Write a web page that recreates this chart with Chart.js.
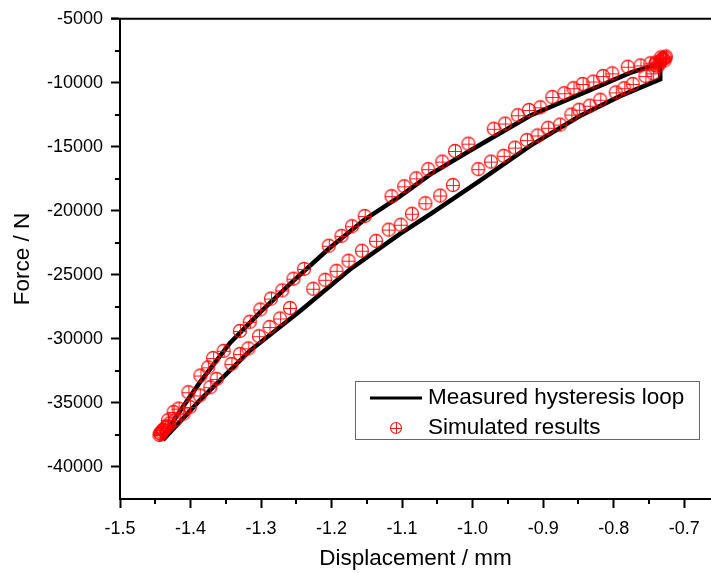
<!DOCTYPE html>
<html lang="en">
<head>
    <meta charset="UTF-8" />
    <title>Hysteresis loop - measured vs simulated</title>
    <script src="https://cdn.jsdelivr.net/npm/chart.js"></script>
    <style>
        body { margin: 0; background: #fff; }
        canvas { display: block; }
    </style>
</head>
<body>
    <canvas id="loopChart" width="711" height="573"></canvas>

    <script>
        // measured loop: lower branch up to the right, short vertical step, upper branch back down
        const measuredX = [
            -1.439, -1.387, -1.316, -1.245, -1.174, -1.103, -1.060, -0.989, -0.918, -0.848, -0.791, -0.734,
            -0.734, -0.777, -0.833, -0.918, -1.004, -1.060, -1.103, -1.154, -1.204, -1.255, -1.301, -1.344,
            -1.387, -1.418, -1.439, -1.439
        ];
        const measuredY = [
            -37900, -34800, -30930, -27830, -24580, -21800, -20250, -17620, -14900, -12590, -11040, -9720,
            -8480, -9220, -10550, -12550, -15300, -17150, -18860, -20710, -22960, -25510, -27910, -30310,
            -33410, -35880, -37660, -37900
        ];

        // simulated results (markers)
        const simX = [
            -1.444, -1.443, -1.441, -1.439, -1.436, -1.433, -1.430, -1.422, -1.410, -1.401,
            -1.387, -1.372, -1.363, -1.342, -1.330, -1.318, -1.303, -1.288, -1.273, -1.259,
            -1.226, -1.209, -1.193, -1.176, -1.157, -1.137, -1.119, -1.102, -1.086, -1.067,
            -1.046, -1.028, -0.992, -0.974, -0.956, -0.940, -0.923, -0.908, -0.893, -0.876,
            -0.860, -0.849, -0.834, -0.819, -0.797, -0.785, -0.773, -0.755, -0.744, -0.738,
            -0.734, -0.731, -0.730, -0.727, -0.726, -0.728, -0.733, -0.736, -0.740, -0.742,
            -0.748, -0.762, -0.780, -0.802, -0.815, -0.829, -0.844, -0.857, -0.870, -0.887,
            -0.904, -0.920, -0.936, -0.954, -0.970, -1.006, -1.025, -1.043, -1.063, -1.080,
            -1.097, -1.115, -1.153, -1.171, -1.186, -1.204, -1.239, -1.254, -1.270, -1.286,
            -1.301, -1.316, -1.330, -1.353, -1.368, -1.375, -1.386, -1.403, -1.417, -1.424,
            -1.432, -1.439, -1.442
        ];
        const simY = [
            -37500, -37350, -37250, -37120, -36950, -36810, -36600, -36350, -35830, -35320,
            -34410, -33770, -33120, -31960, -31180, -30740, -29790, -29070, -28400, -27580,
            -26080, -25380, -24680, -23890, -23110, -22340, -21460, -21080, -20220, -19400,
            -18800, -17980, -16740, -16150, -15700, -15060, -14470, -14110, -13510, -13260,
            -12480, -12100, -11790, -11320, -10750, -10420, -10090, -9470, -9260, -8720,
            -8330, -8150, -8100, -8050, -7940, -8250, -8020, -8550, -8410, -8600,
            -8480, -8640, -8740, -9260, -9470, -9900, -10090, -10420, -10810, -11110,
            -11910, -12120, -12530, -13180, -13590, -14750, -15320, -16150, -16740, -17460,
            -18080, -18850, -20400, -21200, -21950, -22720, -24530, -25300, -26210, -26850,
            -27700, -28660, -29380, -30930, -31490, -32220, -32860, -34160, -35440, -35710,
            -36350, -37120, -37430
        ];

        const xTicks = [-1.5, -1.4, -1.3, -1.2, -1.1, -1.0, -0.9, -0.8, -0.7];
        const xMinor = [-1.45, -1.35, -1.25, -1.15, -1.05, -0.95, -0.85, -0.75];
        const yTicks = [-5000, -10000, -15000, -20000, -25000, -30000, -35000, -40000];
        const yMinor = [-7500, -12500, -17500, -22500, -27500, -32500, -37500];

        const legendLabels = ['Measured hysteresis loop', 'Simulated results'];

        const FONT = "'Liberation Sans', Arial, sans-serif";

        // circle with a plus inside
        function makeMarker(r, w) {
            const c = document.createElement('canvas');
            const s = 2 * r + 2;
            c.width = s; c.height = s;
            const g = c.getContext('2d');
            const m = s / 2;
            g.strokeStyle = 'rgba(255, 0, 0, 0.9)';
            g.lineWidth = w;
            g.beginPath();
            g.arc(m, m, r - 0.5, 0, 2 * Math.PI);
            g.stroke();
            g.lineWidth = 1;
            g.beginPath();
            g.moveTo(m - r + 1, m + 0.5); g.lineTo(m + r - 1, m + 0.5);
            g.moveTo(m + 0.5, m - r + 1); g.lineTo(m + 0.5, m + r - 1);
            g.stroke();
            return c;
        }
        const marker = makeMarker(7, 1.3);
        const legendMarker = makeMarker(6, 1.2);

        const extras = {
            id: 'extras',
            afterDraw(chart) {
                const { ctx, chartArea: a, scales: { x, y } } = chart;
                ctx.save();
                ctx.strokeStyle = '#000';
                ctx.lineWidth = 2;
                ctx.beginPath();
                // top frame line
                ctx.moveTo(a.left - 9, a.top);
                ctx.lineTo(a.right, a.top);
                xMinor.forEach(v => {
                    const px = Math.round(x.getPixelForValue(v));
                    ctx.moveTo(px, a.bottom);
                    ctx.lineTo(px, a.bottom + 5);
                });
                yMinor.forEach(v => {
                    const py = Math.round(y.getPixelForValue(v));
                    ctx.moveTo(a.left, py);
                    ctx.lineTo(a.left - 5, py);
                });
                ctx.stroke();

                // legend box
                ctx.fillStyle = '#fff';
                ctx.fillRect(355, 381, 344, 58);
                ctx.strokeStyle = '#666';
                ctx.lineWidth = 1;
                ctx.strokeRect(355.5, 381.5, 344, 58);
                ctx.strokeStyle = '#000';
                ctx.lineWidth = 3;
                ctx.beginPath();
                ctx.moveTo(370, 398);
                ctx.lineTo(422, 398);
                ctx.stroke();
                ctx.drawImage(legendMarker, 396 - legendMarker.width / 2, 428 - legendMarker.height / 2);
                ctx.fillStyle = '#000';
                ctx.font = '22.5px ' + FONT;
                ctx.textBaseline = 'middle';
                ctx.fillText(legendLabels[0], 428, 398);
                ctx.fillText(legendLabels[1], 428, 428);
                ctx.restore();
            }
        };

        new Chart(document.getElementById('loopChart'), {
            type: 'scatter',
            data: {
                datasets: [
                    {
                        label: legendLabels[1],
                        data: simX.map((v, i) => ({ x: v, y: simY[i] })),
                        pointStyle: marker,
                        pointRadius: 7,
                        order: 0
                    },
                    {
                        label: legendLabels[0],
                        data: measuredX.map((v, i) => ({ x: v, y: measuredY[i] })),
                        showLine: true,
                        borderColor: '#000',
                        borderWidth: 4.5,
                        pointRadius: 0,
                        tension: 0,
                        order: 1
                    }
                ]
            },
            options: {
                responsive: false,
                devicePixelRatio: 1,
                animation: false,
                layout: { autoPadding: false, padding: { top: 15, left: 0, right: 0, bottom: 0 } },
                plugins: {
                    legend: { display: false },
                    tooltip: { enabled: false }
                },
                scales: {
                    x: {
                        type: 'linear',
                        min: -1.5,
                        max: -0.662,
                        afterBuildTicks: s => { s.ticks = xTicks.map(v => ({ value: v })); },
                        afterFit: s => { s.height = 74; s.paddingLeft = 0; s.paddingRight = 0; },
                        border: { display: true, color: '#000', width: 2 },
                        grid: { drawOnChartArea: false, drawTicks: true, tickLength: 9, tickWidth: 2, tickColor: '#000' },
                        ticks: {
                            color: '#000',
                            font: { family: FONT, size: 18 },
                            padding: 10,
                            autoSkip: false,
                            maxRotation: 0,
                            callback: v => v.toFixed(1)
                        },
                        title: {
                            display: true,
                            text: 'Displacement / mm',
                            color: '#000',
                            font: { family: FONT, size: 22.5 },
                            padding: { top: 0, bottom: 1 }
                        }
                    },
                    y: {
                        type: 'linear',
                        min: -42500,
                        max: -5000,
                        afterBuildTicks: s => { s.ticks = yTicks.map(v => ({ value: v })); },
                        afterFit: s => { s.width = 120; },
                        border: { display: true, color: '#000', width: 2 },
                        grid: { drawOnChartArea: false, drawTicks: true, tickLength: 9, tickWidth: 2, tickColor: '#000' },
                        ticks: {
                            color: '#000',
                            font: { family: FONT, size: 18 },
                            padding: 8,
                            autoSkip: false,
                            callback: v => String(v)
                        },
                        title: {
                            display: true,
                            text: 'Force / N',
                            color: '#000',
                            font: { family: FONT, size: 22.5 },
                            padding: { top: 9, bottom: 0 }
                        }
                    }
                }
            },
            plugins: [extras]
        });
    </script>
</body>
</html>
